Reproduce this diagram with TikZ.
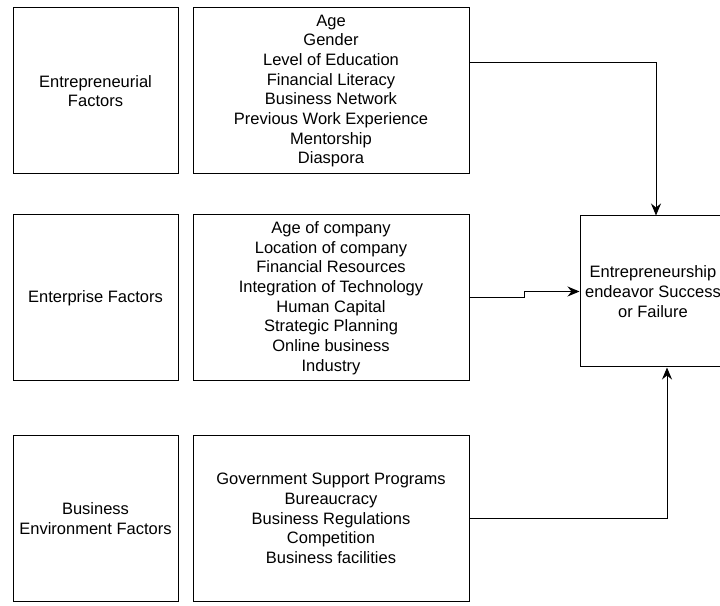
\documentclass[tikz,border=0pt]{standalone}
\usepackage{fontspec}
\setmainfont{Liberation Sans}
\usetikzlibrary{arrows.meta,calc}

\begin{document}
\begin{tikzpicture}[x=1pt,y=1pt,
    every node/.style={font=\fontsize{16.5}{19.7}\selectfont, align=center},
    factorbox/.style={draw, line width=1pt, minimum width=165pt, minimum height=166pt, inner sep=0pt},
    listbox/.style={draw, line width=1pt, minimum width=276pt, minimum height=166pt, inner sep=0pt},
    link/.style={line width=1pt, -{Stealth[length=12pt,width=10pt,inset=4pt]}}]
    \useasboundingbox (0,0) rectangle (720,605);
    \node[factorbox] (entfac) at (95.5,514) {Entrepreneurial\\Factors};
    \node[listbox] (entlist) at (331,514) {Age\\Gender\\Level of Education\\Financial Literacy\\Business Network\\Previous Work Experience\\Mentorship\\Diaspora};
    \node[factorbox] (firmfac) at (95.5,307) {Enterprise Factors};
    \node[listbox] (firmlist) at (331,307) {Age of company\\Location of company\\Financial Resources\\Integration of Technology\\Human Capital\\Strategic Planning\\Online business\\Industry};
    \node[factorbox, minimum height=165pt] (envfac) at (95.5,86.5) {Business\\Environment Factors};
    \node[listbox, minimum height=165pt] (envlist) at (331,86.5) {Government Support Programs\\Bureaucracy\\Business Regulations\\Competition\\Business facilities};
    \node[draw, line width=1pt, minimum width=146pt, minimum height=151pt, inner sep=0pt] (result) at (653,313.5) {Entrepreneurship\\endeavor Success\\or Failure};
    \draw[link] ($(entlist.north east)!0.33!(entlist.south east)$) -| ([xshift=3pt]result.north);
    \draw[link] (firmlist.east) -- ++(55,0) |- (result.west);
    \draw[link] (envlist.east) -| ([xshift=14pt]result.south);
\end{tikzpicture}
\end{document}
